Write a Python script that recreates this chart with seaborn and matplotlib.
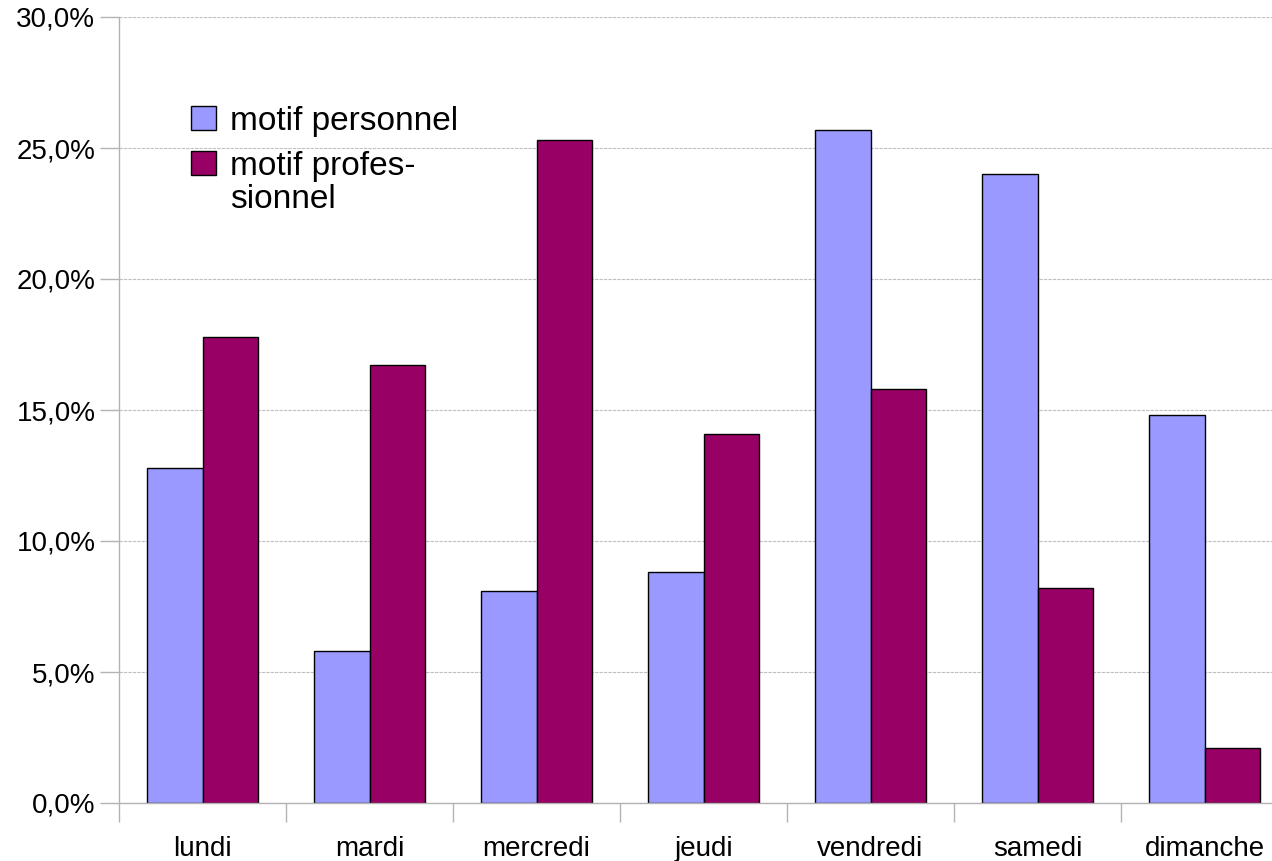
import seaborn as sns
import matplotlib.pyplot as plt
import pandas as pd

jours = ["lundi", "mardi", "mercredi", "jeudi", "vendredi", "samedi", "dimanche"]
perso = [12.8, 5.8, 8.1, 8.8, 25.7, 24.0, 14.8]
pro = [17.8, 16.7, 25.3, 14.1, 15.8, 8.2, 2.1]
series = ["motif personnel", "motif profes-\nsionnel"]
yticks = [0, 5, 10, 15, 20, 25, 30]

df = pd.DataFrame({
    "jour": jours * 2,
    "valeur": perso + pro,
    "motif": [series[0]] * len(jours) + [series[1]] * len(jours),
})

sns.set_style("white")
plt.rcParams['font.family'] = ['Liberation Sans', 'DejaVu Sans']
plt.rcParams['text.color'] = 'black'
plt.rcParams['xtick.labelcolor'] = 'black'
plt.rcParams['ytick.labelcolor'] = 'black'

fig = plt.figure(figsize=(12.72, 8.61), dpi=100)
ax = fig.add_axes([119/1272, 1 - 803/861, 1169/1272, 786/861])

sns.barplot(data=df, x="jour", y="valeur", hue="motif", order=jours,
            hue_order=series, palette=["#9999ff", "#990066"],
            width=0.665, gap=0, edgecolor="black", linewidth=1,
            saturation=1, ax=ax, legend=True)

ax.set_xlim(-0.5, len(jours) - 0.5)
ax.set_ylim(0, 30)
ax.set_yticks(yticks)
ax.set_yticklabels([f"{v:.1f}".replace(".", ",") + "%" for v in yticks], fontsize=20)
ax.set_xticks(range(len(jours)))
ax.set_xticklabels(jours, fontsize=20)
ax.set_xticks([i - 0.5 for i in range(len(jours) + 1)], minor=True)
ax.tick_params(axis="x", which="major", bottom=True, length=0, pad=24)
ax.tick_params(axis="x", which="minor", bottom=True, length=14, color="#b3b3b3", width=1)
ax.tick_params(axis="y", left=True, length=14, color="#b3b3b3", width=1, pad=3)
ax.set_xlabel("")
ax.set_ylabel("")

ax.yaxis.grid(True, linestyle=(0, (3, 1)), color="#c0c0c0", linewidth=0.8)
ax.set_axisbelow(True)
for s in ["top", "right"]:
    ax.spines[s].set_visible(False)
for s in ["left", "bottom"]:
    ax.spines[s].set_color("#b3b3b3")
    ax.spines[s].set_linewidth(1)

leg = ax.legend(frameon=False, loc="upper left", bbox_to_anchor=(161/1272, 1 - 76/861),
                bbox_transform=fig.transFigure, fontsize=24, handlelength=0.75,
                handleheight=0.75, handletextpad=0.42, labelspacing=0.42)
for t in leg.get_texts():
    t.set_linespacing(1.1)
    t.set_color("black")
# handle sits next to the first line of the wrapped label
for col in leg._legend_handle_box.get_children():
    for row in col.get_children():
        row.align = "top"

fig.savefig("out.png", dpi=100)
